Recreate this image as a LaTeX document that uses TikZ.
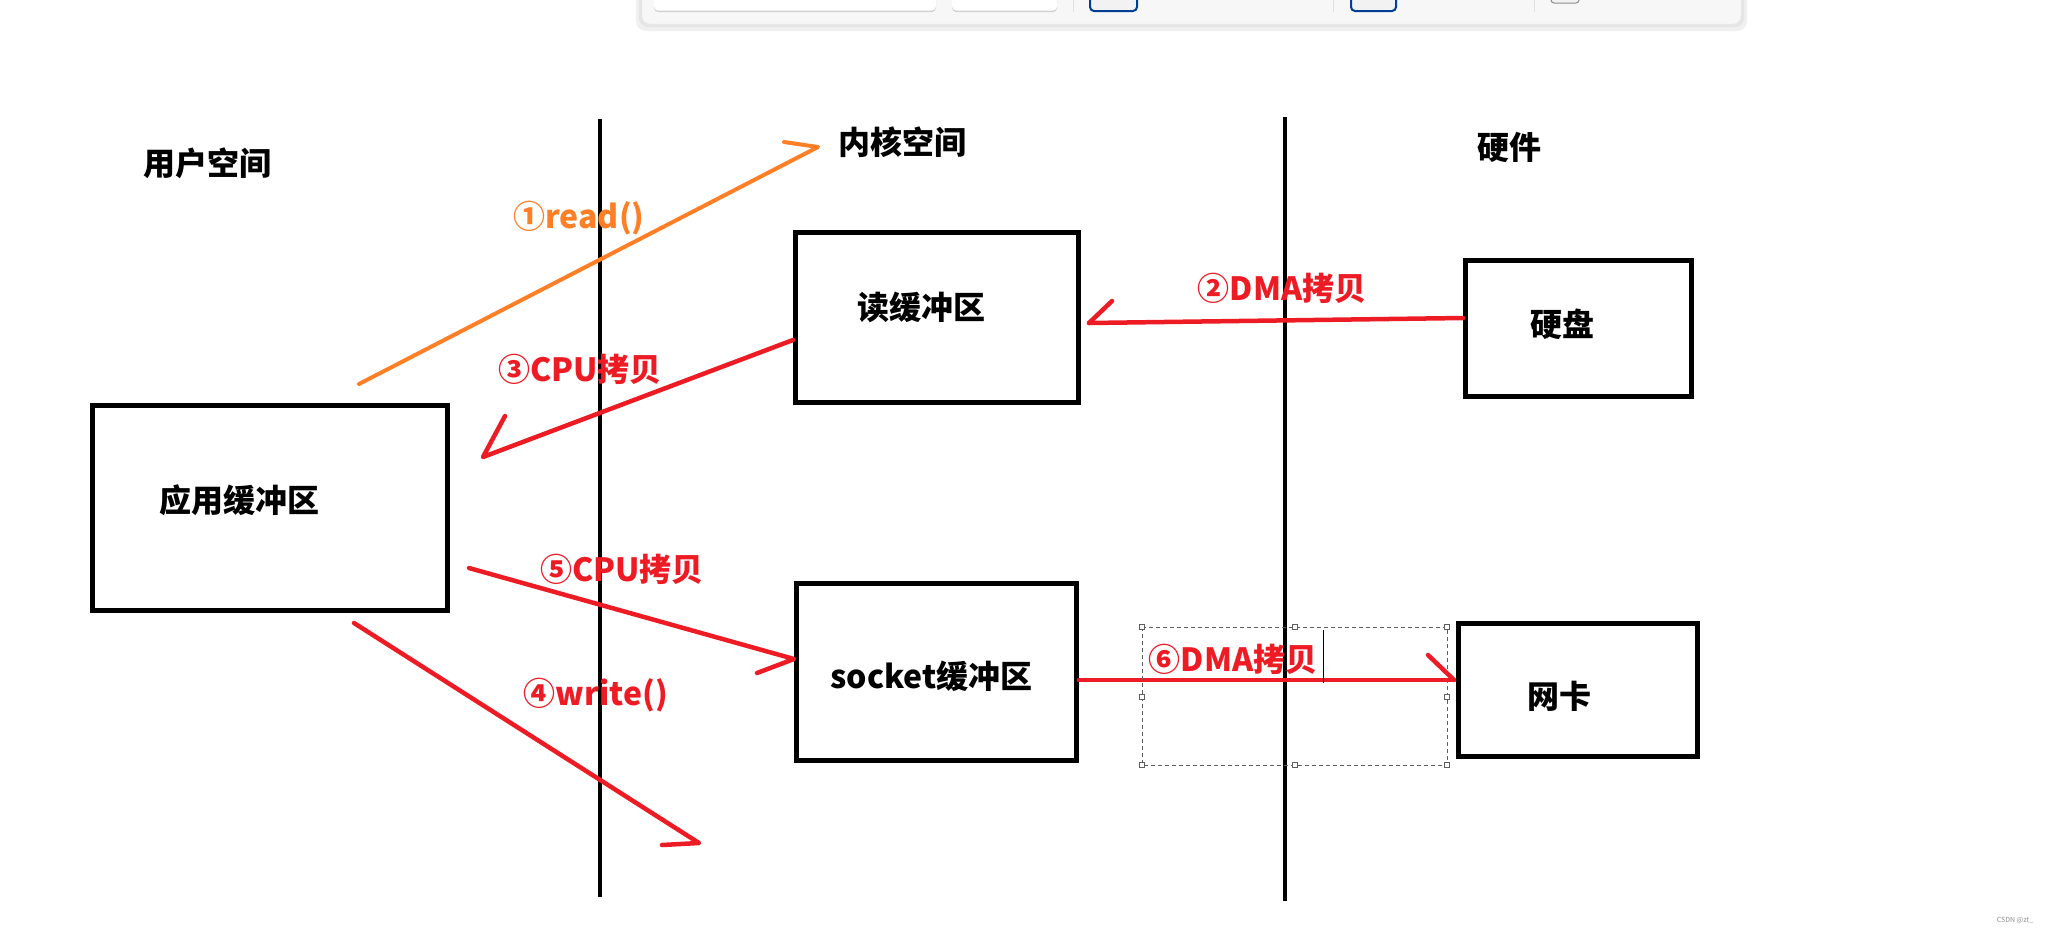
\documentclass[tikz,border=0pt]{standalone}
\usepackage{fontspec}
\setmainfont{Noto Sans CJK SC}
\usetikzlibrary{calc}
\definecolor{penred}{RGB}{237,28,36}
\definecolor{penorange}{RGB}{255,127,39}
\definecolor{selgray}{RGB}{95,95,95}
\definecolor{barblue}{RGB}{0,62,146}

\tikzset{
  box/.style={draw, line width=5pt, inner sep=0pt},
  txt/.style={font=\fontsize{32}{38}\selectfont\bfseries, inner sep=0pt},
  redtxt/.style={txt, text=penred},
  redpen/.style={draw=penred, line width=4.5pt, line cap=round, line join=round},
  orangepen/.style={draw=penorange, line width=4pt, line cap=round, line join=round},
  lane/.style={line width=4pt},
  handle/.style={draw=selgray, fill=white, line width=0.8pt, minimum size=5pt, inner sep=0pt}
}

\begin{document}
\begin{tikzpicture}[x=1pt,y=-1pt]
\useasboundingbox (0,0) rectangle (2053,930);

% toolbar left over from the screenshot
\fill[black!6, rounded corners=10pt] (636,-12) rectangle (1747,31);
\fill[black!10, rounded corners=9pt] (639,-12) rectangle (1744,27);
\fill[black!3, draw=black!8, rounded corners=8pt] (642,-12) rectangle (1741,24);
\foreach \xa/\xb in {654/936, 952/1057}{
  \fill[black!18, rounded corners=4pt] (\xa,-6) rectangle (\xb,12);
  \fill[white, rounded corners=4pt] (\xa,-6) rectangle (\xb,10.5);
}
\foreach \xs in {1073, 1333, 1534}
  \draw[black!12, line width=1pt] (\xs,-2) -- (\xs,12);
\foreach \xa/\xb in {1090/1137, 1351/1396}
  \draw[barblue, fill=black!5, line width=2pt, rounded corners=4pt] (\xa,-6) rectangle (\xb,11);
\draw[black!45, fill=black!5, line width=1pt, rounded corners=3pt] (1551,-6) rectangle (1579,3);

% lanes
\draw[lane] (600,119) -- (600,897);
\draw[lane] (1285,117) -- (1285,901);

\node[txt] (user) at (207,163) {用户空间};
\node[txt] (kernel) at (902,142) {内核空间};
\node[txt] (hw) at (1509,147) {硬件};

% buffers
\node[box, minimum width=355, minimum height=205] (appbuf) at (270,508) {};
\node[box, minimum width=283, minimum height=170] (rdbuf) at (937,317.5) {};
\node[box, minimum width=280, minimum height=177] (sockbuf) at (936.5,672) {};
\node[box, minimum width=226, minimum height=136] (disk) at (1578.5,328.5) {};
\node[box, minimum width=239, minimum height=133] (nic) at (1578,690) {};

\node[txt] (appbuftxt) at ($(appbuf)+(-31,-8)$) {应用缓冲区};
\node[txt] (rdbuftxt) at ($(rdbuf)+(-16,-10)$) {读缓冲区};
\node[txt] (sockbuftxt) at ($(sockbuf)+(-5,4)$) {socket缓冲区};
\node[txt] (disktxt) at ($(disk)+(-16,-4)$) {硬盘};
\node[txt] (nictxt) at ($(nic)+(-19,6)$) {网卡};

% hand drawn arrows
\coordinate (rds) at (359,384);
\coordinate (rdt) at (818,147);
\coordinate (rdh) at (784,142);
\coordinate (dmas) at (disk.west |- 0,318);
\coordinate (dmat) at (1089,323);
\coordinate (dmah) at (1112,301);
\coordinate (cpus) at (rdbuf.west |- 0,340);
\coordinate (cput) at (483,457);
\coordinate (cpuh) at (505,416);
\coordinate (wrs) at (354,623);
\coordinate (wrt) at (699,843);
\coordinate (wrh) at (662,845);
\coordinate (cpos) at (469,568);
\coordinate (copt) at (sockbuf.west |- 0,659);
\coordinate (coph) at (757,673);
\coordinate (nics) at (sockbuf.east |- 0,680);
\coordinate (nict) at (1454,680);
\coordinate (nich) at (1428,655);

\draw[orangepen] (rds) -- (rdt) -- (rdh);
\draw[redpen] (dmas) -- (dmat);
\draw[redpen] (dmat) -- (dmah);
\draw[redpen] (cpus) -- (cput) -- (cpuh);
\draw[redpen] (wrs) -- (wrt) -- (wrh);
\draw[redpen] (cpos) -- (copt) -- (coph);
\draw[redpen] (nics) -- (nict);
\draw[redpen] (nich) -- (nict);

\node[txt, text=penorange] (readlbl) at (579,218) {①read()};
\node[redtxt] (dmalbl) at (1282,288) {②DMA拷贝};
\node[redtxt] (cpulbl) at (580,369) {③CPU拷贝};
\node[redtxt] (writelbl) at (596,695) {④write()};
\node[redtxt] (copylbl) at (622,569) {⑤CPU拷贝};
\node[redtxt] (niclbl) at (1233,659) {⑥DMA拷贝};

% text box selection round label 6
\draw[selgray, line width=0.9pt, dash pattern=on 4pt off 3pt] (1142,627) rectangle (1447,765);
\foreach \hx/\hy in {1142/627, 1295/627, 1447/627, 1142/697, 1447/697, 1142/765, 1295/765, 1447/765}
  \node[handle] at (\hx,\hy) {};
\draw[line width=1pt] (1323,630) -- (1323,683);

\node[font=\fontsize{7}{8}\selectfont, text=black!45] (mark) at (2015,920) {CSDN @zt\_};
\end{tikzpicture}
\end{document}
